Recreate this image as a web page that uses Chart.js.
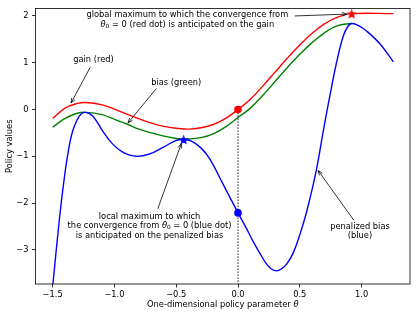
<!DOCTYPE html>
<html>
<head>
<meta charset="utf-8">
<script src="https://cdn.jsdelivr.net/npm/chart.js@4.4.0/dist/chart.umd.min.js"></script>
<style>
  html, body { margin: 0; padding: 0; background: #fff; }
</style>
</head>
<body>
<canvas id="chart" width="416" height="317"></canvas>
<script>
// ===== DATA =====
const gainX = [-1.5, -1.4, -1.3, -1.23, -1.1, -1.0, -0.9, -0.8, -0.7, -0.6, -0.5, -0.4, -0.3, -0.2, -0.1, 0.0, 0.1, 0.2, 0.3, 0.4, 0.5, 0.6, 0.7, 0.8, 0.92, 1.257];
const gainY = [-0.19, 0.03, 0.13, 0.15, 0.10, 0.01, -0.10, -0.20, -0.29, -0.36, -0.40, -0.42, -0.39, -0.32, -0.19, 0.0, 0.22, 0.50, 0.80, 1.10, 1.38, 1.63, 1.83, 1.97, 2.05, 2.05];

const biasX = [-1.5, -1.4, -1.3, -1.23, -1.1, -1.0, -0.9, -0.8, -0.7, -0.6, -0.5, -0.44, -0.4, -0.3, -0.2, -0.1, 0.0, 0.1, 0.2, 0.3, 0.4, 0.5, 0.6, 0.7, 0.8, 0.92];
const biasY = [-0.38, -0.19, -0.08, -0.06, -0.11, -0.21, -0.31, -0.42, -0.50, -0.57, -0.62, -0.64, -0.63, -0.60, -0.52, -0.37, -0.17, 0.03, 0.30, 0.60, 0.90, 1.18, 1.43, 1.64, 1.79, 1.84];

const penX = [-1.5, -1.445, -1.413, -1.379, -1.338, -1.284, -1.235, -1.176, -1.095, -1.014, -0.933, -0.824, -0.716, -0.608, -0.5, -0.44, -0.38, -0.3, -0.23, -0.12, 0.0, 0.068, 0.122, 0.176, 0.23, 0.27, 0.311, 0.35, 0.392, 0.446, 0.5, 0.555, 0.595, 0.636, 0.689, 0.744, 0.798, 0.852, 0.89, 0.92, 0.98, 1.04, 1.15, 1.257];
const penY = [-3.78, -2.33, -1.61, -0.98, -0.46, -0.14, -0.06, -0.14, -0.46, -0.74, -0.91, -1.0, -0.95, -0.81, -0.66, -0.64, -0.67, -0.82, -1.05, -1.60, -2.21, -2.54, -2.82, -3.07, -3.30, -3.41, -3.45, -3.41, -3.31, -3.07, -2.68, -2.19, -1.76, -1.27, -0.48, 0.30, 1.01, 1.57, 1.78, 1.84, 1.79, 1.68, 1.40, 1.02];

const redDot = [0.0, 0.0];
const redStar = [0.92, 2.05];
const blueDot = [0.0, -2.21];
const blueStar = [-0.44, -0.64];
const dropX = [0.0, 0.0];
const dropY = [0.0, -3.73];

const xTicks = [-1.5, -1.0, -0.5, 0.0, 0.5, 1.0];
const yTicks = [-3, -2, -1, 0, 1, 2];
const xRange = [-1.639, 1.392];
const yRange = [-3.73, 2.16];

const xTitle = 'One-dimensional policy parameter θ';
const yTitle = 'Policy values';

// annotations: text lines centred at (x, y[i]), arrow from tail to head (data coords)
const notes = [
  { lines: ['global maximum to which the convergence from', 'θ₀ = 0 (red dot) is anticipated on the gain'],
    x: -0.41, y: [2.02, 1.81], tail: [0.46, 2.0], head: [0.88, 2.04] },
  { lines: ['gain (red)'], x: -1.17, y: [1.06], tail: [-1.197, 0.90], head: [-1.351, 0.14] },
  { lines: ['bias (green)'], x: -0.50, y: [0.56], tail: [-0.66, 0.45], head: [-0.89, -0.285] },
  { lines: ['local maximum to which', 'the convergence from θ₀ = 0 (blue dot)', 'is anticipated on the penalized bias'],
    x: -0.716, y: [-2.285, -2.49, -2.71], tail: [-0.649, -2.12], head: [-0.459, -0.73] },
  { lines: ['penalized bias', '(blue)'], x: 0.987, y: [-2.51, -2.71], tail: [0.938, -2.37], head: [0.649, -1.306] }
];

// ===== HELPERS =====
const FAMILY = '"DejaVu Sans", sans-serif';
const FS = 8.3;
const pts = (xs, ys) => xs.map((x, i) => ({ x, y: ys[i] }));
const minus = s => s.replace('-', '\u2212');

function starImg(color, r) {
  const c = document.createElement('canvas');
  c.width = c.height = Math.ceil(2 * r + 2);
  const g = c.getContext('2d');
  const m = c.width / 2;
  g.beginPath();
  for (let i = 0; i < 10; i++) {
    const a = -Math.PI / 2 + i * Math.PI / 5;
    const rr = i % 2 ? r * 0.42 : r;
    g.lineTo(m + rr * Math.cos(a), m + 0.6 + rr * Math.sin(a));
  }
  g.closePath();
  g.fillStyle = color;
  g.fill();
  return c;
}

// split a line into plain / italic theta / subscript pieces
function segments(line) {
  const out = [];
  let buf = '';
  for (const ch of line) {
    if (ch === 'θ' || ch === '₀') {
      if (buf) out.push({ t: buf });
      buf = '';
      out.push(ch === 'θ' ? { t: 'θ', it: true } : { t: '0', sub: true });
    } else buf += ch;
  }
  if (buf) out.push({ t: buf });
  return out;
}
function segFont(s) {
  return (s.it ? 'italic ' : '') + (s.sub ? FS * 0.7 : FS) + 'px ' + FAMILY;
}
function drawRich(ctx, line, cx, cy) {
  const segs = segments(line);
  let w = 0;
  segs.forEach(s => { ctx.font = segFont(s); w += ctx.measureText(s.t).width; });
  let x = cx - w / 2;
  segs.forEach(s => {
    ctx.font = segFont(s);
    ctx.fillText(s.t, x, cy + (s.sub ? FS * 0.22 : 0));
    x += ctx.measureText(s.t).width;
  });
}
function arrow(ctx, x1, y1, x2, y2) {
  ctx.beginPath(); ctx.moveTo(x1, y1); ctx.lineTo(x2, y2); ctx.stroke();
  const a = Math.atan2(y2 - y1, x2 - x1), L = 5, w = 0.38;
  ctx.beginPath();
  ctx.moveTo(x2 - L * Math.cos(a - w), y2 - L * Math.sin(a - w));
  ctx.lineTo(x2, y2);
  ctx.lineTo(x2 - L * Math.cos(a + w), y2 - L * Math.sin(a + w));
  ctx.stroke();
}

// ===== ANNOTATION PLUGIN =====
const decor = {
  id: 'decor',
  afterDraw(chart) {
    const { ctx, chartArea: ca, scales: { x, y } } = chart;
    ctx.save();
    ctx.strokeStyle = '#000';
    ctx.lineWidth = 0.8;
    ctx.strokeRect(ca.left, ca.top, ca.right - ca.left, ca.bottom - ca.top);

    ctx.fillStyle = '#000';
    ctx.textBaseline = 'middle';
    ctx.textAlign = 'left';
    notes.forEach(n => {
      n.lines.forEach((l, i) => drawRich(ctx, l, x.getPixelForValue(n.x), y.getPixelForValue(n.y[i])));
      arrow(ctx, x.getPixelForValue(n.tail[0]), y.getPixelForValue(n.tail[1]),
                 x.getPixelForValue(n.head[0]), y.getPixelForValue(n.head[1]));
    });

    drawRich(ctx, xTitle, (ca.left + ca.right) / 2, 304.7);
    ctx.translate(10, (ca.top + ca.bottom) / 2);
    ctx.rotate(-Math.PI / 2);
    drawRich(ctx, yTitle, 0, 0);
    ctx.restore();
  }
};

// ===== CHART =====
const line = (data, color) => ({
  data, showLine: true, borderColor: color, backgroundColor: color,
  borderWidth: 1.4, pointRadius: 0, tension: 0.4, fill: false
});
const marker = (p, color, style, r) => ({
  data: [{ x: p[0], y: p[1] }], showLine: false, pointStyle: style,
  pointRadius: r, backgroundColor: color, borderColor: color, borderWidth: 0
});

new Chart(document.getElementById('chart'), {
  type: 'scatter',
  data: {
    datasets: [
      marker(redStar, '#ff0000', starImg('#ff0000', 5.5), 5),
      marker(blueStar, '#0000ff', starImg('#0000ff', 5.5), 5),
      marker(redDot, '#ff0000', 'circle', 3.8),
      marker(blueDot, '#0000ff', 'circle', 3.8),
      { data: pts(dropX, dropY), showLine: true, borderColor: '#000', borderWidth: 1.1,
        borderDash: [1.2, 1.8], pointRadius: 0 },
      line(pts(penX, penY), '#0000ff'),
      line(pts(biasX, biasY), '#008000'),
      line(pts(gainX, gainY), '#ff0000')
    ]
  },
  options: {
    responsive: false,
    animation: false,
    devicePixelRatio: 1,
    layout: { padding: { top: 6, right: 6, left: 0, bottom: 0 } },
    plugins: { legend: { display: false }, tooltip: { enabled: false } },
    scales: {
      x: {
        type: 'linear', min: xRange[0], max: xRange[1],
        afterBuildTicks: s => { s.ticks = xTicks.map(v => ({ value: v })); },
        afterFit: s => { s.height = 33; },
        ticks: { color: '#000', padding: 2, maxRotation: 0, font: { family: FAMILY, size: FS },
                 callback: v => minus(v.toFixed(1)) },
        grid: { drawOnChartArea: false, drawTicks: true, tickLength: 3.5, color: '#000', lineWidth: 0.8 },
        border: { display: false }
      },
      y: {
        type: 'linear', min: yRange[0], max: yRange[1],
        afterBuildTicks: s => { s.ticks = yTicks.map(v => ({ value: v })); },
        afterFit: s => { s.width = 35.5; },
        ticks: { color: '#000', padding: 3.5, font: { family: FAMILY, size: FS },
                 callback: v => minus(String(v)) },
        grid: { drawOnChartArea: false, drawTicks: true, tickLength: 3.5, color: '#000', lineWidth: 0.8 },
        border: { display: false }
      }
    }
  },
  plugins: [decor]
});
</script>
</body>
</html>
